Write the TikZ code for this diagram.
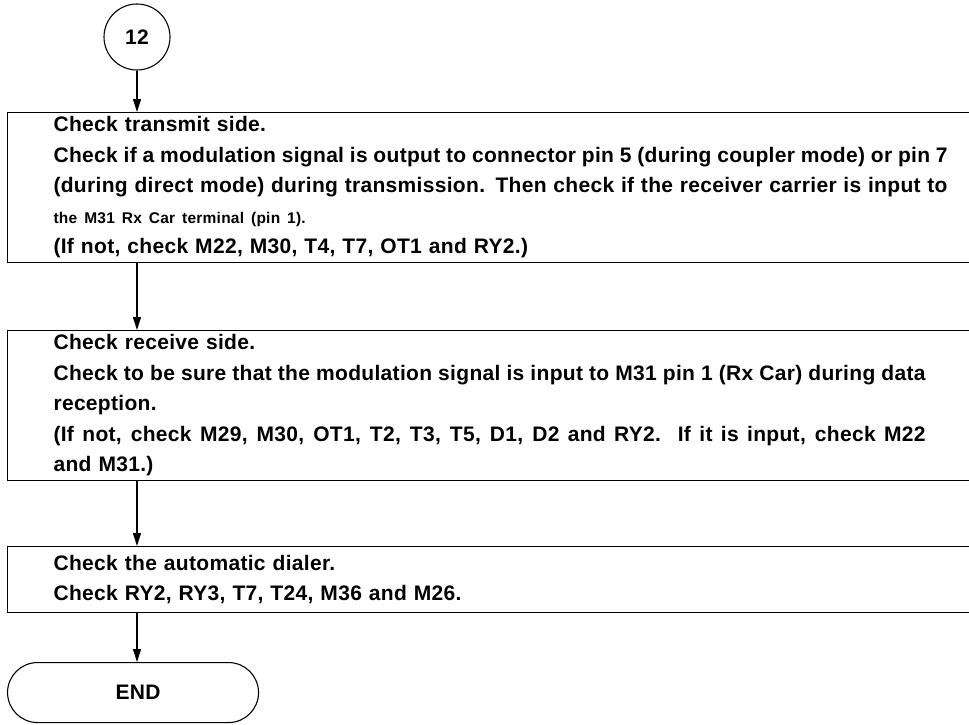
\documentclass[tikz,border=0pt]{standalone}
\usepackage{fontspec}
\newfontfamily\dfont{Liberation Sans}[LetterSpace=1.5]
\usetikzlibrary{arrows.meta}
\newcommand\jla[1]{{\spaceskip=0.28em plus 1em minus 0.12em\relax\makebox[894pt][s]{#1}}}
\newcommand\jlb[1]{{\spaceskip=0.28em plus 1em minus 0.12em\relax\makebox[872pt][s]{#1}}}
\begin{document}
\begin{tikzpicture}[x=1pt,y=-1pt,
  every node/.style={font=\dfont\bfseries\fontsize{21}{30.5}\selectfont},
  frame/.style={draw, line width=1.1pt, anchor=north west, inner xsep=46pt, inner ysep=0pt, text width=894pt, align=left},
  arr/.style={line width=1.1pt, -{Triangle[length=13pt,width=8pt]}},
  terminal/.style={draw, line width=1.1pt, rounded corners=30pt, anchor=north west, minimum width=251pt, minimum height=60pt},
  connector/.style={draw, circle, line width=1.1pt, minimum size=66pt, inner sep=0pt}
]
\useasboundingbox (0,0) rectangle (969,725);
\clip (0,0) rectangle (969,725);
\node[connector] (c12) at (137,37) {12};
\node[frame, minimum height=150pt] (b1) at (7,112) {Check transmit side.\\
\jla{Check if a modulation signal is output to connector pin 5 (during coupler mode) or pin 7}\\
\jla{(during direct mode) during transmission. Then check if the receiver carrier is input to}\\
{\fontsize{15.5}{30.5}\selectfont the M31 Rx Car terminal (pin 1).}\\
(If not, check M22, M30, T4, T7, OT1 and RY2.)};
\node[frame, minimum height=150pt] (b2) at (7,330) {Check receive side.\\
\jlb{Check to be sure that the modulation signal is input to M31 pin 1 (Rx Car) during data}\\
reception.\\
\jlb{(If not, check M29, M30, OT1, T2, T3, T5, D1, D2 and RY2.\ \ If it is input, check M22}\\
and M31.)};
\node[frame, minimum height=66pt] (b3) at (7,546) {Check the automatic dialer.\\
Check RY2, RY3, T7, T24, M36 and M26.};
\node[terminal] (end) at (7,662) {\hspace*{10pt}END};
\draw[arr] (c12.south) -- (c12.south |- b1.north);
\draw[arr] ([xshift=130pt]b1.south west) -- ([xshift=130pt]b2.north west);
\draw[arr] ([xshift=130pt]b2.south west) -- ([xshift=130pt]b3.north west);
\draw[arr] ([xshift=130pt]b3.south west) -- ([xshift=130pt]b3.south west |- end.north);
\end{tikzpicture}
\end{document}
